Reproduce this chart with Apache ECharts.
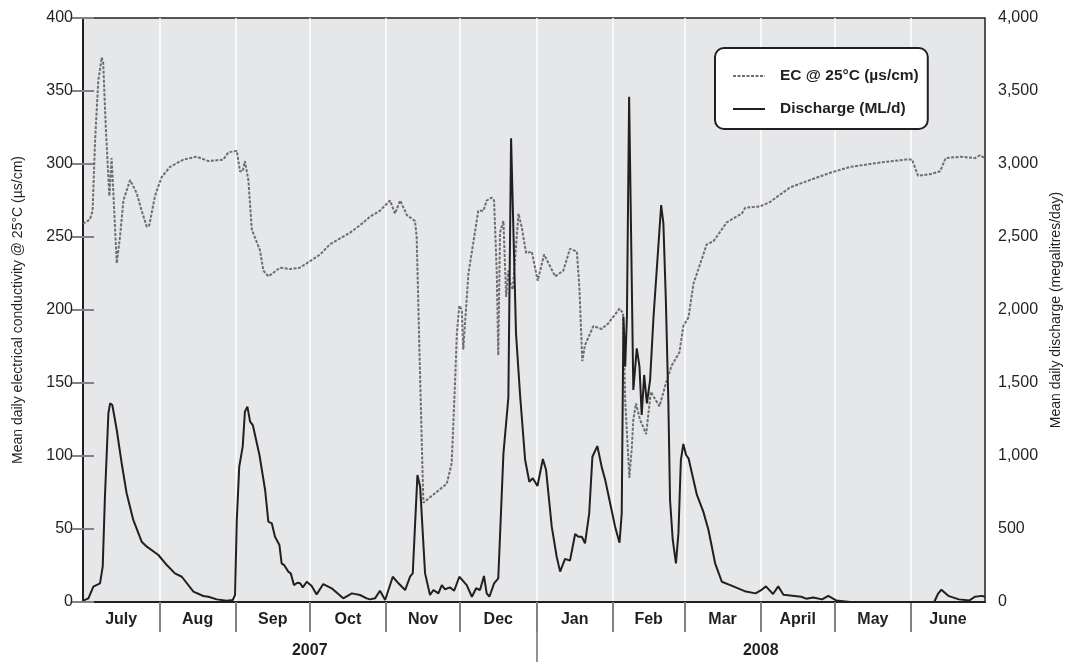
<!DOCTYPE html>
<html>
<head>
<meta charset="utf-8">
<script src="https://cdn.jsdelivr.net/npm/echarts@6/dist/echarts.min.js"></script>
<style>html,body{margin:0;padding:0;background:#fff}#c{width:1067px;height:662px}</style>
</head>
<body>
<div id="c"></div>
<script>
// Months (July 2007 – June 2008), day offsets from 1 July 2007
const months = ['July','Aug','Sep','Oct','Nov','Dec','Jan','Feb','Mar','April','May','June'];
const monthStarts = [0,31,62,92,123,153,184,215,244,275,305,336,366];
const years = ['2007','2008'];
const yearStarts = [0,184,366];

// EC @ 25°C (µs/cm): day index and value
const ecDays = [0,2.8,3.9,4.9,6.2,7.6,8.2,9.3,10.7,11.6,12.0,13.7,15.0,16.4,19.1,21.8,23.8,25.9,26.9,29.2,31.9,35.3,40.7,46.1,50.9,56.9,59.0,62.4,63.7,64.8,65.7,67.1,68.5,71.8,73.2,75.2,80,84,88,91.7,96.2,100.2,104.3,108.4,112.4,116.5,120.5,124.6,126.6,128.7,131.4,134.7,135.4,136.5,138.1,147.6,149.6,151.0,151.7,152.7,153.7,154.3,156.4,160.4,162.5,163.8,165.9,166.8,167.9,168.5,169.2,170.6,171.7,172.6,173.3,174.4,176.7,178.0,179.8,182.1,184.5,187.1,191.6,194.9,197.6,200.4,201.4,202.6,203.7,207.1,210.5,213.2,217.7,219.1,220.0,221.7,222.7,223.3,224.4,226.0,228.5,230.4,233.9,236.9,238.9,242.0,243.6,245.7,247.7,253.1,255.8,261.2,267.3,268.7,274.8,278.8,286.9,295.0,303.2,311.3,323.5,333.6,336.4,338.8,343.7,347.8,350.0,356.1,362.0,364.0,366];
const ecValues = [259,262,268,316,357,373,369,323,278,304,291,232,250,275,289,280,268,257,258,278,291,298,303,305,302,303,308,309,295,295,302,289,255,241,227,223,229,228,229,233,238,245,249,253,258,264,268,275,266,275,265,261,250,173,68,81,95,152,184,203,200,173,225,268,268,275,277,275,225,169,253,261,209,227,219,214,266,257,239,240,220,238,223,227,242,240,216,165,176,189,187,191,201,198,138,85,106,125,136,125,115,144,134,152,162,171,189,195,218,245,247,260,266,270,271,274,284,289,294,298,301,303,303,292,293,295,304,305,304,306,304];

// Discharge (ML/d): day index and value
const qDays = [0.1,2.2,4.2,6.9,8.0,8.9,10.3,11.0,11.9,13.7,15.7,17.7,20.4,23.8,25.9,30.6,34.0,37.3,40.1,44.8,48.8,50.9,54.3,58.3,60.8,61.7,62.4,63.4,64.8,65.7,66.7,67.8,68.9,71.6,73.9,75.2,76.6,77.9,79.7,80.6,81.6,83.3,84.3,85.6,87.0,88.1,89.2,90.8,92.8,94.8,97.5,100.9,105.6,109.1,112.4,115.1,116.5,118.5,120.5,122.6,125.7,128.0,130.7,132.7,133.8,135.7,136.8,138.8,140.8,142.2,144.2,145.6,146.9,148.9,150.6,152.7,155.7,157.8,159.5,161.1,162.7,163.8,164.9,166.8,168.5,170.6,172.6,173.7,175.7,177.4,179.4,181.1,182.5,184.4,186.6,187.9,190.2,192.2,193.6,195.6,197.6,199.7,201.0,202.4,203.7,205.4,206.7,208.7,210.5,211.9,213.9,215.9,217.7,218.6,219.3,220.0,220.7,221.6,223.3,224.7,225.8,226.7,227.7,228.8,230.1,231.5,234.6,235.5,236.5,237.5,238.2,239.3,240.6,241.6,242.6,243.6,244.7,245.7,249.1,251.7,253.8,256.5,259.2,262.9,268.5,272.9,275.0,277.1,280.0,282.1,284.2,291.4,293.4,296.3,299.9,302.4,305.6,311.3,345.4,346.9,348.3,351.1,355.4,359.7,361.9,364.7,366];
const qValues = [9,25,105,128,242,721,1292,1361,1349,1178,950,745,562,413,379,322,253,196,173,71,41,36,18,9,14,48,562,927,1064,1304,1338,1235,1212,1007,767,550,539,447,390,265,253,208,196,116,132,128,100,139,110,52,123,94,25,59,48,25,18,25,77,14,173,128,82,173,196,870,790,196,48,82,59,116,87,100,77,173,116,36,94,82,178,59,36,128,162,1018,1400,3176,1840,1406,973,824,847,795,979,904,516,310,208,295,283,466,447,447,402,607,995,1068,922,836,676,516,406,607,1954,1612,1954,3460,1452,1737,1612,1281,1555,1361,1520,1954,2719,2594,2068,1384,699,425,265,470,973,1082,1007,984,733,619,493,265,139,114,74,59,79,107,55,107,50,36,23,31,18,42,11,0,0,55,84,42,18,11,36,42,36];

const ecData = ecDays.map((d, i) => [d, ecValues[i]]);
const qData = qDays.map((d, i) => [d, qValues[i]]);
const monthMids = months.map((m, i) => (monthStarts[i] + monthStarts[i + 1]) / 2);
const yearMids = years.map((y, i) => (yearStarts[i] + yearStarts[i + 1]) / 2);

const dark = '#231f20';
const font = 'Liberation Sans, Arial, sans-serif';

const chart = echarts.init(document.getElementById('c'), null, {renderer: 'canvas'});
chart.setOption({
  animation: false,
  textStyle: {fontFamily: font, color: dark},
  grid: {left: 83, right: 82, top: 18, bottom: 60, containLabel: false, outerBoundsMode: 'none',
    show: true, backgroundColor: '#e6e7e8', borderColor: dark, borderWidth: 1.5},
  legend: {
    data: ['EC @ 25°C (µs/cm)', 'Discharge (ML/d)'],
    orient: 'vertical', left: 715, top: 48, z: 20,
    backgroundColor: '#fff', borderColor: dark, borderWidth: 2, borderRadius: 9,
    padding: [20, 9, 12, 17], itemGap: 17, itemWidth: 32, itemHeight: 14,
    itemStyle: {opacity: 0},
    textStyle: {fontFamily: font, fontSize: 15.5, fontWeight: 'bold', color: dark, padding: [0, 0, 0, 10]}
  },
  xAxis: [
    {
      type: 'value', min: 0, max: 366, position: 'bottom',
      axisLine: {show: true, onZero: false, lineStyle: {color: dark, width: 2}},
      axisTick: {show: true, customValues: monthStarts.slice(1, -1), length: 30, lineStyle: {color: '#808285', width: 2}},
      axisLabel: {customValues: monthMids, margin: 10, fontSize: 16, fontWeight: 'bold', color: dark, fontFamily: font,
        formatter: v => { const i = monthMids.findIndex(m => Math.abs(m - v) < 0.01); return i >= 0 ? months[i] : ''; }},
      splitLine: {show: false}
    },
    {
      type: 'value', min: 0, max: 366, position: 'bottom', offset: 30,
      axisLine: {show: true, onZero: false, lineStyle: {color: 'rgba(0,0,0,0)', width: 0}},
      axisTick: {show: true, customValues: [yearStarts[1]], length: 30, lineStyle: {color: '#6d6e71', width: 1.5}},
      axisLabel: {customValues: yearMids, margin: 11, fontSize: 16, fontWeight: 'bold', color: dark, fontFamily: font,
        formatter: v => { const i = yearMids.findIndex(m => Math.abs(m - v) < 0.01); return i >= 0 ? years[i] : ''; }},
      splitLine: {show: false}
    }
  ],
  yAxis: [
    {
      type: 'value', min: 0, max: 400, interval: 50, position: 'left',
      name: 'Mean daily electrical conductivity @ 25°C (µs/cm)', nameLocation: 'middle', nameGap: 58,
      nameTextStyle: {fontSize: 14, color: dark, fontFamily: font},
      axisLine: {show: true, lineStyle: {color: dark, width: 2}},
      axisTick: {show: true, inside: true, length: 11, lineStyle: {color: '#808285', width: 2}},
      axisLabel: {fontSize: 16, color: dark, margin: 10, fontFamily: font},
      splitLine: {show: false}
    },
    {
      type: 'value', min: 0, max: 4000, interval: 500, position: 'right',
      name: 'Mean daily discharge (megalitres/day)', nameLocation: 'middle', nameGap: 62, nameRotate: 90,
      nameTextStyle: {fontSize: 14, color: dark, fontFamily: font},
      axisLine: {show: true, lineStyle: {color: dark, width: 2}},
      axisTick: {show: true, inside: true, length: 11, lineStyle: {color: '#808285', width: 2}},
      axisLabel: {fontSize: 16, color: dark, margin: 13, fontFamily: font, formatter: v => v.toLocaleString('en-US')},
      splitLine: {show: false}
    }
  ],
  series: [
    {
      name: 'months', type: 'line', data: [], xAxisIndex: 0, yAxisIndex: 0, z: 0, silent: true,
      markLine: {silent: true, symbol: 'none', label: {show: false}, animation: false, z: 0,
        lineStyle: {color: '#ffffff', width: 1.5, type: 'solid'},
        data: monthStarts.slice(1, -1).map(d => ({xAxis: d}))}
    },
    {
      name: 'EC @ 25°C (µs/cm)', type: 'line', data: ecData, xAxisIndex: 0, yAxisIndex: 0,
      symbol: 'none', z: 2,
      lineStyle: {color: '#6d6e71', width: 2, type: [3, 1.5]},
      itemStyle: {color: '#6d6e71'}
    },
    {
      name: 'Discharge (ML/d)', type: 'line', data: qData, xAxisIndex: 0, yAxisIndex: 1,
      symbol: 'none', z: 3,
      lineStyle: {color: dark, width: 2},
      itemStyle: {color: dark}
    }
  ]
});
</script>
</body>
</html>
